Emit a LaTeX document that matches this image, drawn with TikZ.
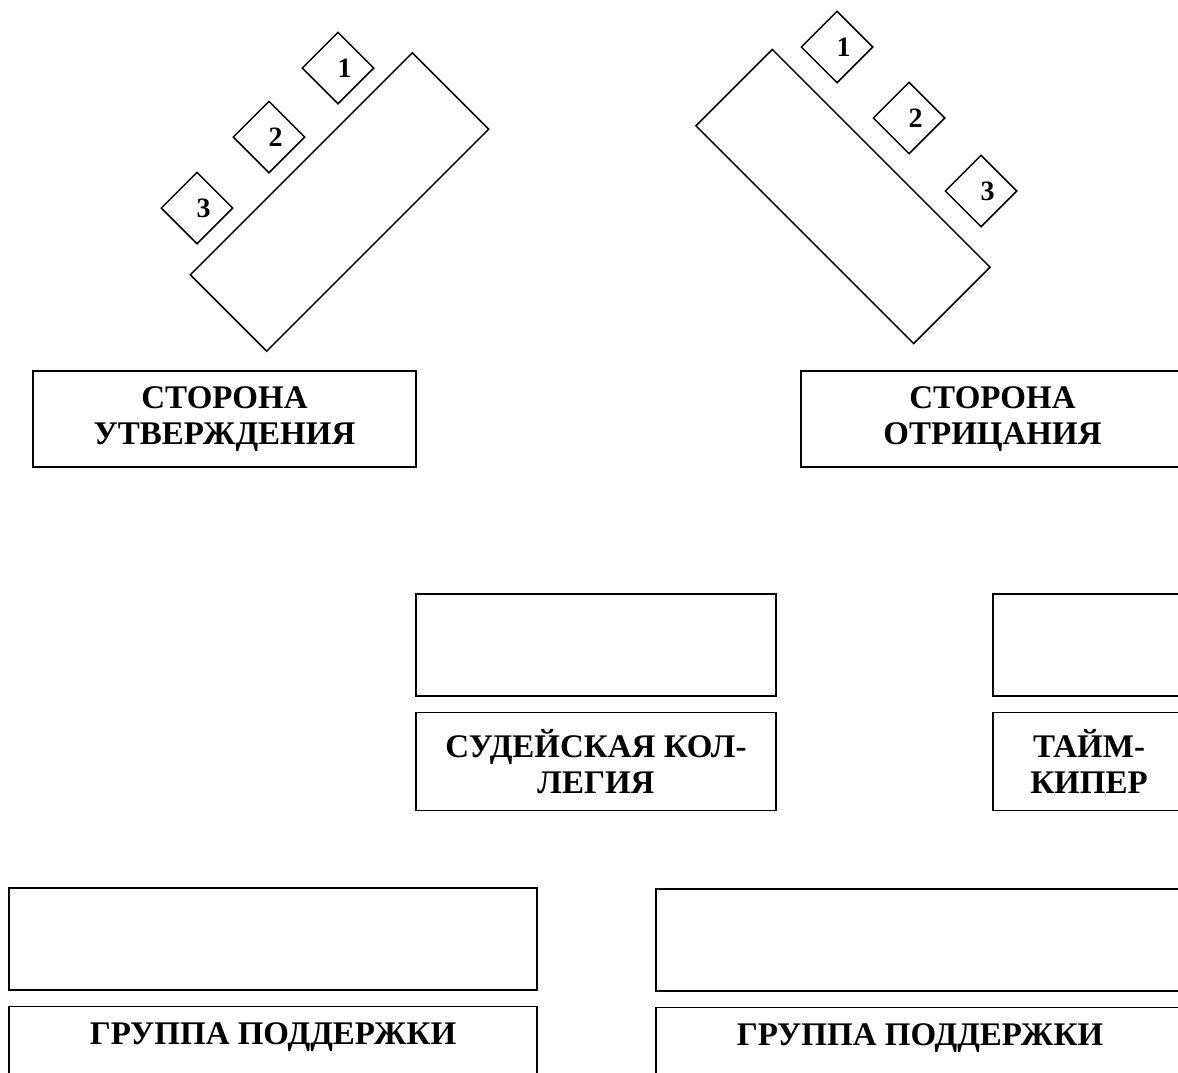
\documentclass[tikz,border=0pt]{standalone}
\usepackage{fontspec}
\setmainfont{Liberation Serif}
\newfontfamily\timesbf{Liberation Serif}[BoldFont={Liberation Serif Bold}]
\usetikzlibrary{positioning, shapes.geometric}

\begin{document}
\begin{tikzpicture}[
    x=0.5pt, y=-0.5pt, line width=0.75pt,
    every node/.style={font=\timesbf\bfseries\fontsize{16.5}{18}\selectfont},
    table/.style={draw, rectangle, minimum height=54pt, inner sep=0pt},
    seat/.style={draw, diamond, minimum width=36pt, minimum height=36pt, inner sep=0pt},
    num/.style={font=\timesbf\bfseries\fontsize{14}{16}\selectfont, inner sep=0pt},
    box/.style={draw, rectangle, align=center, inner sep=0pt},
    node distance=7.5pt
]
\useasboundingbox (0,0) rectangle (1178,1072);
\clip (0,0) rectangle (1178,1072);

% tables of the two sides
\node[table, rotate=45, minimum width=157pt] (tabA) at (339.5,202) {};
\node[table, rotate=-45, minimum width=154pt] (tabN) at (843,196.5) {};

% speakers
\node[seat] (a1) at (338,68) {};
\node[seat] (a2) at (269,137) {};
\node[seat] (a3) at (197,208) {};
\node[seat] (n1) at (837,47) {};
\node[seat] (n2) at (909,118) {};
\node[seat] (n3) at (981,191) {};
\foreach \s/\k in {a1/1, a2/2, a3/3, n1/1, n2/2, n3/3}
    \node[num] at ([xshift=3.3pt]\s.center) {\k};

% side names
\node[box, minimum width=191.5pt, minimum height=48pt] (sideA) at (224.5,419) {СТОРОНА\\УТВЕРЖДЕНИЯ};
\node[box, minimum width=191.5pt, minimum height=48pt] (sideN) at (992.5,419) {СТОРОНА\\ОТРИЦАНИЯ};

% judges and timekeeper
\node[box, minimum width=180pt, minimum height=51pt] (judge) at (596,645) {};
\node[box, minimum width=180pt, minimum height=49pt, below=of judge] (judgeL) {СУДЕЙСКАЯ КОЛ-\\ЛЕГИЯ};
\node[box, minimum width=96pt, minimum height=51pt] (timer) at (1089,645) {};
\node[box, minimum width=96pt, minimum height=49pt, below=of timer] (timerL) {ТАЙМ-\\КИПЕР};

% support groups
\node[box, minimum width=264pt, minimum height=51pt] (supA) at (273,939) {};
\node[box, minimum width=264pt, minimum height=49pt, below=of supA] (supAL) {};
\node[inner sep=0pt, below=8pt of supAL.north] (supAT) {ГРУППА ПОДДЕРЖКИ};
\node[box, minimum width=264pt, minimum height=51pt] (supN) at (920,940) {};
\node[box, minimum width=264pt, minimum height=49pt, below=of supN] (supNL) {};
\node[inner sep=0pt, below=8pt of supNL.north] (supNT) {ГРУППА ПОДДЕРЖКИ};
\end{tikzpicture}
\end{document}
